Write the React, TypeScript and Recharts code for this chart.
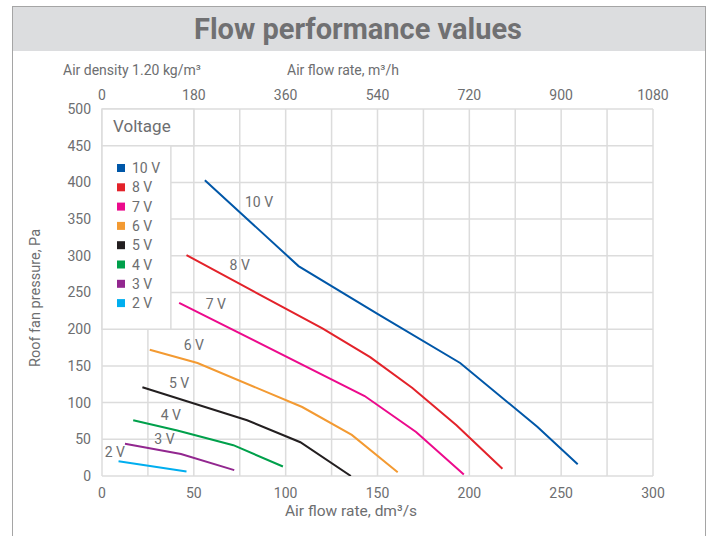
import React from 'react';
import { LineChart, Line, XAxis, YAxis, CartesianGrid, ReferenceArea, ReferenceDot } from 'recharts';

const xTicks = [0, 25, 50, 75, 100, 125, 150, 175, 200, 225, 250, 275, 300];
const yTicks = [0, 50, 100, 150, 200, 250, 300, 350, 400, 450, 500];
const voltages = ['10 V', '8 V', '7 V', '6 V', '5 V', '4 V', '3 V', '2 V'];
const colors = ['#0057a8', '#e3222a', '#ec0a8c', '#f39a32', '#231f20', '#00a04b', '#92278f', '#00aeef'];

const flow10 = [56, 107, 150, 195, 237, 259];
const pres10 = [403, 286, 221, 154, 67, 16];
const flow8 = [46, 120, 146, 169, 193, 218];
const pres8 = [301, 201, 162, 120, 69, 10];
const flow7 = [42, 143, 171, 197];
const pres7 = [236, 109, 60, 2];
const flow6 = [26, 52, 109, 136, 161];
const pres6 = [172, 154, 94, 56, 5];
const flow5 = [22, 79, 108, 135.5];
const pres5 = [121, 76, 46, 0];
const flow4 = [17, 41, 71.5, 98.5];
const pres4 = [76, 62, 42, 13];
const flow3 = [12.5, 43, 72];
const pres3 = [44, 30, 8];
const flow2 = [9, 46];
const pres2 = [20, 6];

const labelFlow = [85.5, 75, 62, 50, 42, 37.5, 34, 7];
const labelPressure = [373, 287, 234, 178, 127, 83, 50, 33];

const flows = [flow10, flow8, flow7, flow6, flow5, flow4, flow3, flow2];
const pressures = [pres10, pres8, pres7, pres6, pres5, pres4, pres3, pres2];
const seriesData = flows.map((f, i) => f.map((x, j) => ({ x, p: pressures[i][j] })));
const topAxisData = xTicks.map((x) => ({ x, p: 0 }));

const FONT = 'Roboto, "Noto Sans", sans-serif';
const GRAY = '#6d6e70';
const GRID = '#dcdcdc';

export default function App() {
  return (
    <div style={{ position: 'absolute', left: 0, top: 0, width: 715, height: 536, background: '#fff', fontFamily: FONT, overflow: 'hidden' }}>
      <div style={{ position: 'absolute', left: 12, top: 6, width: 693, height: 44, background: '#dcdddf', borderTop: '1px solid #a5a5a5' }} />
      <div style={{ position: 'absolute', left: 12, top: 6, width: 1, height: 530, background: '#a5a5a5' }} />
      <div style={{ position: 'absolute', left: 705, top: 6, width: 1, height: 530, background: '#a5a5a5' }} />
      <div style={{ position: 'absolute', left: 0, top: 0 }}>
        <LineChart width={715} height={536} margin={{ top: 79, right: 62, bottom: 30, left: 62 }}>
          <CartesianGrid stroke={GRID} strokeWidth={1.5} />
          <XAxis
            dataKey="x"
            type="number"
            domain={[0, 300]}
            allowDataOverflow
            ticks={xTicks}
            interval={0}
            height={30}
            axisLine={false}
            tickLine={false}
            tickSize={6}
            tickMargin={6}
            tick={{ fill: GRAY, fontSize: 14, fontFamily: FONT }}
            tickFormatter={(v: number) => (v % 50 === 0 ? String(v) : '')}
          />
          <XAxis
            xAxisId="top"
            orientation="top"
            dataKey="x"
            type="number"
            domain={[0, 300]}
            allowDataOverflow
            ticks={xTicks}
            interval={0}
            height={30}
            axisLine={false}
            tickLine={false}
            tickSize={4}
            tickMargin={5}
            tick={{ fill: GRAY, fontSize: 14, fontFamily: FONT }}
            tickFormatter={(v: number) => (v % 50 === 0 ? String(Math.round(v * 3.6)) : '')}
          />
          <YAxis
            type="number"
            domain={[0, 500]}
            allowDataOverflow
            ticks={yTicks}
            interval={0}
            width={40}
            axisLine={false}
            tickLine={false}
            tickSize={6}
            tickMargin={5}
            tick={{ fill: GRAY, fontSize: 14, fontFamily: FONT }}
          />
          <ReferenceArea x1={0} x2={50} y1={450} y2={500} fill="#fff" fillOpacity={1} stroke={GRID} strokeWidth={1.5} ifOverflow="visible" />
          <ReferenceArea x1={0} x2={37.5} y1={200} y2={450} fill="#fff" fillOpacity={1} stroke={GRID} strokeWidth={1.5} ifOverflow="visible" />
          <Line
            xAxisId="top"
            data={topAxisData}
            dataKey="p"
            stroke="none"
            strokeWidth={0}
            dot={false}
            activeDot={false}
            legendType="none"
            isAnimationActive={false}
          />
          {seriesData.map((d, i) => (
            <Line
              key={voltages[i]}
              data={d}
              dataKey="p"
              type="linear"
              stroke={colors[i]}
              strokeWidth={2}
              dot={false}
              activeDot={false}
              isAnimationActive={false}
            />
          ))}
          {voltages.map((v, i) => (
            <ReferenceDot
              key={'lbl' + v}
              x={labelFlow[i]}
              y={labelPressure[i]}
              r={0}
              fill="none"
              stroke="none"
              ifOverflow="visible"
              label={{ value: v, position: 'center', fill: GRAY, fontSize: 14, fontFamily: FONT }}
            />
          ))}
        </LineChart>
      </div>
      <svg width={715} height={536} style={{ position: 'absolute', left: 0, top: 0, pointerEvents: 'none' }}>
        <text x={358} y={29} textAnchor="middle" dominantBaseline="central" fill="#707072" fontSize={29} fontWeight={700} fontFamily={FONT}>
          Flow performance values
        </text>
        <text x={63} y={70} dominantBaseline="central" fill={GRAY} fontSize={14} fontFamily={FONT}>Air density 1.20 kg/m³</text>
        <text x={287} y={70} dominantBaseline="central" fill={GRAY} fontSize={14} fontFamily={FONT}>Air flow rate, m³/h</text>
        <text x={35} y={298} textAnchor="middle" dominantBaseline="central" fill={GRAY} fontSize={14.5} fontFamily={FONT} transform="rotate(-90 35 298)">
          Roof fan pressure, Pa
        </text>
        <text x={351} y={511} textAnchor="middle" dominantBaseline="central" fill={GRAY} fontSize={15.5} fontFamily={FONT}>Air flow rate, dm³/s</text>
        <text x={113} y={126} dominantBaseline="central" fill={GRAY} fontSize={17} fontFamily={FONT}>Voltage</text>
        {voltages.map((v, i) => (
          <g key={'leg' + v}>
            <rect x={117} y={164 + i * 19.3} width={8} height={8} fill={colors[i]} />
            <text x={132} y={168 + i * 19.3} dominantBaseline="central" fill={GRAY} fontSize={14} fontFamily={FONT}>{v}</text>
          </g>
        ))}
      </svg>
    </div>
  );
}
